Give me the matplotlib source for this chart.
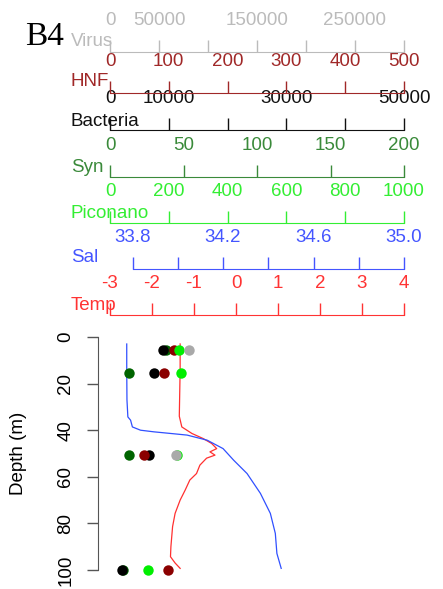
import matplotlib
matplotlib.use("Agg")
import matplotlib.pyplot as plt
import numpy as np

plt.rcParams['font.family'] = ['Liberation Sans', 'DejaVu Sans']
plt.rcParams['axes.unicode_minus'] = False

# bottle samples
sample_depth = [5.5, 15.5, 50.5, 100]
virus = [80900, np.nan, 67000, np.nan]
hnf = [109, 91, 57, 99]
bacteria = [9000, 7500, 6700, 2000]
syn = [38, 13, 13, 9]
piconano = [236, 240, 228, 130]

# CTD profile
temp_depth = [3, 14, 34, 38.6, 41.4, 43.6, 45.7, 47.9, 49.3, 50.7, 52, 55, 58.6,
              61.4, 65.7, 70, 75.7, 81.4, 90, 94.3, 97, 99.3]
temp = [-1.33, -1.33, -1.35, -1.29, -1.05, -0.78, -0.58, -0.46, -0.62, -0.50, -0.70,
        -0.86, -0.94, -1.10, -1.21, -1.33, -1.45, -1.51, -1.55, -1.56, -1.45, -1.33]
sal_depth = [3, 14, 27, 34.3, 35.7, 38.6, 40, 40.7, 41.4, 42.1, 44.3, 47.9, 52.9,
             58.6, 67.1, 75.7, 84.3, 92.9, 99.3]
sal = [33.774, 33.774, 33.775, 33.779, 33.791, 33.799, 33.835, 33.894, 33.968, 34.041,
       34.130, 34.200, 34.247, 34.306, 34.365, 34.409, 34.431, 34.438, 34.457]

W, H = 443, 589
fig = plt.figure(figsize=(W / 100, H / 100), dpi=100)

def fx(px):
    return px / W

def fy(py):
    return 1 - py / H

X0, X1 = 110, 404
Y0, Y1 = 337, 570
plot_rect = [fx(X0), fy(Y1), (X1 - X0) / W, (Y1 - Y0) / H]
FS = 13.5

# depth axis
ax = fig.add_axes(plot_rect)
ax.set_ylim(100, 0)
ax.set_xticks([])
ax.patch.set_visible(False)
for s in ['top', 'right', 'bottom']:
    ax.spines[s].set_visible(False)
ax.spines['left'].set_position(('outward', 8.6))
ax.spines['left'].set_bounds(0, 100)
ax.spines['left'].set_color('#555555')
ax.set_yticks([0, 20, 40, 60, 80, 100])
ax.tick_params(axis='y', length=8, width=1, color='#555555', pad=9,
               labelsize=FS, labelrotation=90)
for lab in ax.get_yticklabels():
    lab.set_va('center')
ax.set_ylabel('Depth (m)', fontsize=FS, labelpad=22)

# one overlay per variable: (name, range, ticks, labels, axis colour, strip line y, name y)
variables = [
    ('Temp', (-3, 4), list(range(-3, 5)), None, '#FF3333', 315.5, 305),
    ('Sal', (33.7, 35.0), [33.8, 34.0, 34.2, 34.4, 34.6, 34.8, 35.0],
     ['33.8', '', '34.2', '', '34.6', '', '35.0'], '#4455FF', 269.5, 258),
    ('Syn', (0, 200), [0, 50, 100, 150, 200], None, '#3A8A3A', 177, 168),
    ('Bacteria', (0, 50000), [0, 10000, 20000, 30000, 40000, 50000],
     ['0', '10000', '', '30000', '', '50000'], '#111111', 130, 122),
    ('HNF', (0, 500), [0, 100, 200, 300, 400, 500], None, '#A02828', 93, 82),
    ('Piconano', (0, 1000), [0, 200, 400, 600, 800, 1000], None, '#33EE33', 223.5, 213),
    ('Virus', (0, 300000), [0, 50000, 100000, 150000, 200000, 250000, 300000],
     ['0', '50000', '', '150000', '', '250000', ''], '#BBBBBB', 52, 42),
]

series = {
    'Temp': ('line', temp, temp_depth, '#FF3030'),
    'Sal': ('line', sal, sal_depth, '#3050FF'),
    'Syn': ('dot', syn, sample_depth, '#006400'),
    'Bacteria': ('dot', bacteria, sample_depth, '#000000'),
    'HNF': ('dot', hnf, sample_depth, '#8B0000'),
    'Piconano': ('dot', piconano, sample_depth, '#00EE00'),
    'Virus': ('dot', virus, sample_depth, '#A9A9A9'),
}

for name, lim, ticks, labels, col, line_y, name_y in variables:
    # data on the shared depth scale
    axd = fig.add_axes(plot_rect, sharey=ax)
    axd.set_xlim(*lim)
    axd.axis('off')
    kind, vals, dep, mcol = series[name]
    if kind == 'line':
        axd.plot(vals, dep, color=mcol, lw=0.9, clip_on=False)
    else:
        axd.plot(vals, dep, 'o', color=mcol, ms=7.5, mec='none', clip_on=False)

    # horizontal axis strip above the plot
    axs = fig.add_axes([fx(X0), fy(line_y), (X1 - X0) / W, 0.0005])
    axs.set_xlim(*lim)
    axs.patch.set_visible(False)
    for s in ['bottom', 'left', 'right']:
        axs.spines[s].set_visible(False)
    axs.spines['top'].set_color(col)
    axs.spines['top'].set_bounds(ticks[0], ticks[-1])
    axs.set_yticks([])
    axs.xaxis.tick_top()
    axs.set_xticks(ticks)
    if labels is not None:
        axs.set_xticklabels(labels)
    axs.tick_params(axis='x', direction='out', length=8.6, width=1, color=col,
                    labelcolor=col, labelsize=FS, pad=8)
    fig.text(fx(71), fy(name_y), name, color=col, fontsize=FS, ha='left', va='center')

fig.text(fx(25), fy(45), 'B4', fontsize=24, family='Liberation Serif', va='baseline')

fig.savefig('out.png', dpi=100)
